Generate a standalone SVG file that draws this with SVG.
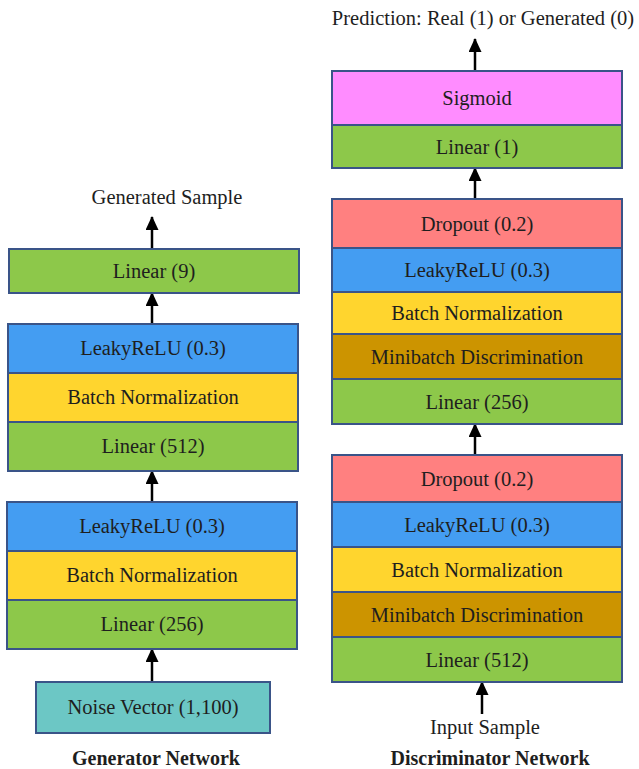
<svg xmlns="http://www.w3.org/2000/svg" width="639" height="769" viewBox="0 0 639 769">
<defs>
<marker id="ah" viewBox="0 0 14 13" refX="13" refY="6.5" markerWidth="14" markerHeight="13" markerUnits="userSpaceOnUse" orient="auto">
<path d="M0,0 L14,6.5 L0,13 z" fill="#000"/>
</marker>
<style>
.b{stroke:#3A5488;stroke-width:2}
.g{fill:#8DC84A}.bl{fill:#449DF2}.y{fill:#FFD52E}.r{fill:#FF8080}.m{fill:#FF8CFF}.br{fill:#CC9400}.t{fill:#6CC7C5}
text{font-family:"Liberation Serif","Times New Roman",serif;font-size:20.5px;fill:#1e1e1e;text-anchor:middle}
.h{font-weight:bold;font-size:20px}
.c line{stroke:#000;stroke-width:2.5;marker-end:url(#ah)}
</style>
</defs>
<rect width="639" height="769" fill="#fff"/>
<g class="c" id="connectors">
<line x1="152" y1="249" x2="152" y2="217"/>
<line x1="152" y1="324" x2="152" y2="293"/>
<line x1="152" y1="502" x2="152" y2="471"/>
<line x1="152" y1="682" x2="152" y2="649"/>
<line x1="475" y1="71" x2="475" y2="39"/>
<line x1="475" y1="199" x2="475" y2="168"/>
<line x1="475" y1="455" x2="475" y2="424"/>
<line x1="482" y1="714" x2="482" y2="682"/>
</g>
<text x="167" y="204">Generated Sample</text>
<g id="g_linear9"><rect class="b g" x="9" y="249" width="290" height="44"/><text x="154" y="278">Linear (9)</text></g>
<g id="g_leaky2"><rect class="b bl" x="8" y="324" width="290" height="49"/><text x="153" y="355">LeakyReLU (0.3)</text></g>
<g id="g_bn2"><rect class="b y" x="8" y="373" width="290" height="49"/><text x="153" y="404">Batch Normalization</text></g>
<g id="g_linear512"><rect class="b g" x="8" y="422" width="290" height="49"/><text x="153" y="453">Linear (512)</text></g>
<g id="g_leaky1"><rect class="b bl" x="7" y="502" width="290" height="49"/><text x="152" y="533">LeakyReLU (0.3)</text></g>
<g id="g_bn1"><rect class="b y" x="7" y="551" width="290" height="49"/><text x="152" y="582">Batch Normalization</text></g>
<g id="g_linear256"><rect class="b g" x="7" y="600" width="290" height="49"/><text x="152" y="631">Linear (256)</text></g>
<g id="g_noise"><rect class="b t" x="36" y="682" width="234" height="51"/><text x="153" y="714">Noise Vector (1,100)</text></g>
<text class="h" x="156" y="765">Generator Network</text>

<text x="483" y="25">Prediction: Real (1) or Generated (0)</text>
<g id="d_sigmoid"><rect class="b m" x="332" y="71" width="290" height="54"/><text x="477" y="105">Sigmoid</text></g>
<g id="d_linear1"><rect class="b g" x="332" y="125" width="290" height="43"/><text x="477" y="154">Linear (1)</text></g>
<g id="d_drop2"><rect class="b r" x="332" y="199" width="290" height="49"/><text x="477" y="231">Dropout (0.2)</text></g>
<g id="d_leaky2"><rect class="b bl" x="332" y="248" width="290" height="44"/><text x="477" y="277">LeakyReLU (0.3)</text></g>
<g id="d_bn2"><rect class="b y" x="332" y="292" width="290" height="42"/><text x="477" y="320">Batch Normalization</text></g>
<g id="d_mb2"><rect class="b br" x="332" y="334" width="290" height="45"/><text x="477" y="364">Minibatch Discrimination</text></g>
<g id="d_linear256"><rect class="b g" x="332" y="379" width="290" height="45"/><text x="477" y="409">Linear (256)</text></g>
<g id="d_drop1"><rect class="b r" x="332" y="455" width="290" height="47"/><text x="477" y="486">Dropout (0.2)</text></g>
<g id="d_leaky1"><rect class="b bl" x="332" y="502" width="290" height="45"/><text x="477" y="532">LeakyReLU (0.3)</text></g>
<g id="d_bn1"><rect class="b y" x="332" y="547" width="290" height="45"/><text x="477" y="577">Batch Normalization</text></g>
<g id="d_mb1"><rect class="b br" x="332" y="592" width="290" height="45"/><text x="477" y="622">Minibatch Discrimination</text></g>
<g id="d_linear512"><rect class="b g" x="332" y="637" width="290" height="45"/><text x="477" y="667">Linear (512)</text></g>
<text x="485" y="734">Input Sample</text>
<text class="h" x="490" y="765">Discriminator Network</text>
</svg>
